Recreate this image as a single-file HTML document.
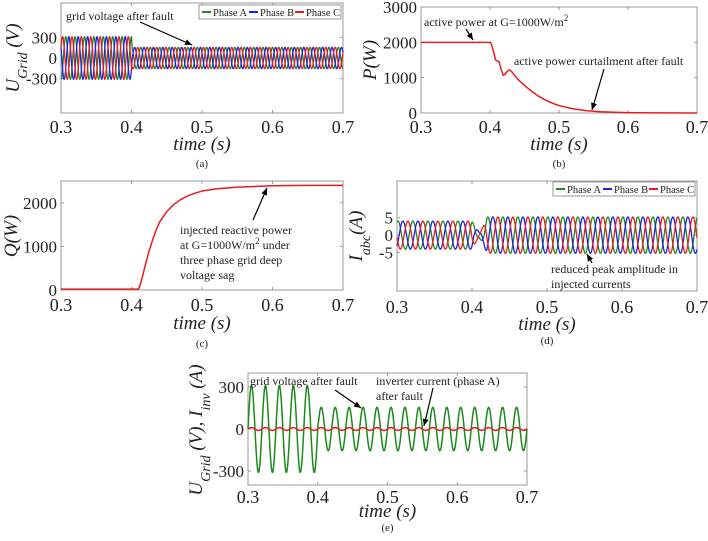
<!DOCTYPE html>
<html><head><meta charset="utf-8"><style>
body{margin:0;background:#fff}
svg{display:block;font-family:"Liberation Serif",serif}
.tk{font-size:18px;fill:#222}
.tky{font-size:17px;fill:#222}
.xl{font-size:19px;font-style:italic;fill:#222}
.an{font-size:12px;fill:#222}
.cap{font-size:11px;fill:#222}
</style></head><body>
<svg id="fig" width="708" height="541" viewBox="0 0 708 541"></svg>
<script>
// ---- data ----
const timeTicks = [0.3, 0.4, 0.5, 0.6, 0.7];
const tickLabels = ["0.3", "0.4", "0.5", "0.6", "0.7"];
// (a) grid voltage amplitude envelope (V)
const gridVoltTimes = [0.3, 0.4, 0.401, 0.7];
const gridVoltAmp = [310, 310, 155, 155];
const gridFreqA = 75;
// (b) active power
const pTimes = [0.3,0.4,0.402,0.405,0.408,0.411,0.413,0.416,0.419,0.422,0.425,0.428,0.431,0.435,0.44,0.45,0.46,0.47,0.48,0.49,0.5,0.52,0.54,0.56,0.58,0.6,0.65,0.7];
const pValues = [2000,2000,1950,1750,1500,1470,1450,1250,1070,1100,1180,1220,1180,1080,960,780,620,480,370,280,210,120,65,35,20,10,3,0];
// (c) reactive power
const qTimes = [0.3,0.41,0.413,0.417,0.42,0.425,0.43,0.435,0.44,0.45,0.46,0.47,0.48,0.49,0.5,0.52,0.55,0.6,0.65,0.7];
const qValues = [20,20,150,400,600,900,1150,1380,1560,1800,1960,2080,2160,2220,2270,2320,2360,2390,2400,2400];
// (d) currents amplitude envelope (A)
const curTimes = [0.3,0.4,0.405,0.41,0.415,0.42,0.7];
const curAmp = [4,4,2,0.8,2.5,5.2,5.2];
// (e) grid voltage phase A and inverter current
const eVoltTimes = [0.3,0.4,0.401,0.7];
const eVoltAmp = [310,310,155,155];
const eCurAmp = 10;
const gridFreq = 50;
const phaseNames = ["Phase A","Phase B","Phase C"];
const phaseColors = ["#1a8a1a","#1f1fe6","#e81c1c"];

const NS="http://www.w3.org/2000/svg";
const svg=document.getElementById('fig');
function el(tag,attrs,parent){const e=document.createElementNS(NS,tag);for(const k in attrs)e.setAttribute(k,attrs[k]);(parent||svg).appendChild(e);return e;}
function interp(ts,vs,t){if(t<=ts[0])return vs[0];for(let i=1;i<ts.length;i++){if(t<=ts[i]){const f=(t-ts[i-1])/(ts[i]-ts[i-1]);return vs[i-1]+f*(vs[i]-vs[i-1]);}}return vs[vs.length-1];}
function makeAxes(name,x0,x1,y0,y1,ymin,ymax,yticks,ylabels,labY,xlabY,cap,capY){
  const g=el('g',{});
  
  
  const sx=t=>x0+(t-0.3)/(0.4)*(x1-x0);
  const sy=v=>y1-(v-ymin)/(ymax-ymin)*(y1-y0);
  const fr=el('rect',{x:x0,y:y0,width:x1-x0,height:y1-y0,fill:'none',stroke:'#999','stroke-width':1},g);
  
  
  timeTicks.forEach((t,i)=>{
    el('line',{x1:sx(t),x2:sx(t),y1:y1,y2:y1-3,stroke:'#999'},g);
    el('line',{x1:sx(t),x2:sx(t),y1:y0,y2:y0+3,stroke:'#999'},g);
    const tx=el('text',{x:sx(t),y:labY+6,'text-anchor':'middle',class:'tk'},g);
    tx.textContent=tickLabels[i];
    
    
  });
  yticks.forEach((v,i)=>{
    el('line',{x1:x0,x2:x0+3,y1:sy(v),y2:sy(v),stroke:'#999'},g);
    el('line',{x1:x1,x2:x1-3,y1:sy(v),y2:sy(v),stroke:'#999'},g);
    const tx=el('text',{x:x0-4,y:sy(v)+6,'text-anchor':'end',class:'tky'},g);
    tx.textContent=ylabels[i];
    
    
  });
  const xl=el('text',{x:(x0+x1)/2,y:xlabY+6,'text-anchor':'middle',class:'xl'},g);
  xl.textContent='time (s)';
  
  
  const c=el('text',{x:(x0+x1)/2,y:capY+4,'text-anchor':'middle',class:'cap'},g);
  c.textContent=cap;
  
  
  return {g,sx,sy};
}
function line(ax,pts,color,w,name){
  const p=el('polyline',{points:pts.map(q=>ax.sx(q[0]).toFixed(2)+','+ax.sy(q[1]).toFixed(2)).join(' '),fill:'none',stroke:color,'stroke-width':w,'stroke-linejoin':'round'},ax.g);
  
  
}
function ylabel(x,y,html,name){
  const t=el('text',{x:0,y:0,transform:`translate(${x},${y}) rotate(-90)`,'text-anchor':'middle',class:'xl'});
  t.innerHTML=html;
  
  
}
function ann(x,y,lines,name){
  const t=el('text',{x:x,y:y,class:'an'});
  
  
  lines.forEach((s,i)=>{const ts=el('tspan',{x:x,dy:i?15:0},t);ts.innerHTML=s;});
}
function arrow(x1,y1,x2,y2){
  el('line',{x1,y1,x2,y2,stroke:'#000','stroke-width':1.2});
  const a=Math.atan2(y2-y1,x2-x1),L=7,W=3;
  const p=[[x2,y2],[x2-L*Math.cos(a)+W*Math.sin(a),y2-L*Math.sin(a)-W*Math.cos(a)],[x2-L*Math.cos(a)-W*Math.sin(a),y2-L*Math.sin(a)+W*Math.cos(a)]];
  el('polygon',{points:p.map(q=>q.join(',')).join(' '),fill:'#000'});
}
function legend(x,y,name){
  const g=el('g',{});
  
  
  el('rect',{x:x,y:y,width:142,height:14,fill:'#fff',stroke:'#999'},g);
  const offs=[3,50,96];
  phaseNames.forEach((n,i)=>{
    const e=el('g',{},g);
    
    
    el('line',{x1:x+offs[i],x2:x+offs[i]+9,y1:y+7,y2:y+7,stroke:phaseColors[i],'stroke-width':2},e);
    const t=el('text',{x:x+offs[i]+11,y:y+11,style:'font-size:10.5px;fill:#222'},e);
    t.textContent=n;
  });
}
const N=1400;
// (a)
{
  const ax=makeAxes('panel-a-grid-voltage',61,343,3,113,-800,800,[300,0,-300],["300","0","-300"],127,144,'(a)',163);
  [0,1,2].forEach(k=>{
    const pts=[];for(let i=0;i<=N;i++){const t=0.3+0.4*i/N;pts.push([t,interp(gridVoltTimes,gridVoltAmp,t)*Math.sin(2*Math.PI*gridFreqA*t-k*2*Math.PI/3+Math.PI/2)]);}
    line(ax,pts,phaseColors[k],1.3,'voltage-'+phaseNames[k].toLowerCase().replace(' ','-'));
  });
  legend(199,5,'legend-a');
  ylabel(19,58,'U<tspan baseline-shift="sub" font-size="14">Grid</tspan> (V)','y-axis-title-a');
  ann(66,20,['grid voltage after fault'],'annotation-a');
  arrow(140,22,192,45);
}
// (b)
{
  const ax=makeAxes('panel-b-active-power',421,697,7,113,0,3000,[3000,2000,1000,0],["3000","2000","1000","0"],127,144,'(b)',163);
  line(ax,pTimes.map((t,i)=>[t,pValues[i]]),'#e81c1c',1.5,'active-power-line');
  ylabel(376,60,'P(W)','y-axis-title-b');
  ann(424,26,['active power at G=1000W/m<tspan dy="-5" font-size="9">2</tspan>'],'annotation-b1');
  arrow(466,29,473,40);
  ann(514,65,['active power curtailment after fault'],'annotation-b2');
  arrow(604,69,592,110);
}
// (c)
{
  const ax=makeAxes('panel-c-reactive-power',61,343,181,290,0,2500,[2000,1000,0],["2000","1000","0"],305,323,'(c)',343);
  line(ax,qTimes.map((t,i)=>[t,qValues[i]]),'#e81c1c',1.5,'reactive-power-line');
  ylabel(17,236,'Q(W)','y-axis-title-c');
  ann(180,234,['injected reactive power','at G=1000W/m<tspan dy="-5" font-size="9">2</tspan><tspan dy="5"> under</tspan>','three phase grid deep','voltage sag'],'annotation-c');
  arrow(253,220,267,188);
}
// (d)
{
  const ax=makeAxes('panel-d-currents',397,697,181,291,-16,15.5,[5,0,-5],["5","0","-5"],307,324,'(d)',340);
  [0,1,2].forEach(k=>{
    const pts=[];for(let i=0;i<=N;i++){const t=0.3+0.4*i/N;pts.push([t,interp(curTimes,curAmp,t)*Math.sin(2*Math.PI*gridFreq*t-k*2*Math.PI/3+1.2)]);}
    line(ax,pts,phaseColors[k],1.3,'current-'+phaseNames[k].toLowerCase().replace(' ','-'));
  });
  legend(553,182,'legend-d');
  ylabel(362,236,'I<tspan baseline-shift="sub" font-size="14">abc</tspan>(A)','y-axis-title-d');
  ann(551,273,['reduced peak amplitude in','injected currents'],'annotation-d');
  arrow(592,263,587,254);
}
// (e)
{
  const ax=makeAxes('panel-e-voltage-current',248,527,373,485,-400,400,[300,0,-300],["300","0","-300"],497,511,'(e)',527);
  const pv=[],pc=[];
  for(let i=0;i<=N;i++){const t=0.3+0.4*i/N;
    pv.push([t,interp(eVoltTimes,eVoltAmp,t)*Math.sin(2*Math.PI*gridFreq*(t-0.3))]);
    pc.push([t,eCurAmp*Math.sin(2*Math.PI*gridFreq*(t-0.3))]);}
  line(ax,pv,'#1a8a1a',1.5,'grid-voltage-phase-a');
  line(ax,pc,'#e81c1c',1.5,'inverter-current-phase-a');
  ylabel(202,430,'U<tspan baseline-shift="sub" font-size="14">Grid</tspan> (V), I<tspan baseline-shift="sub" font-size="14">inv</tspan> (A)','y-axis-title-e');
  ann(250,385,['grid voltage after fault'],'annotation-e1');
  arrow(335,390,361,408);
  ann(376,385,['inverter current (phase A)','after fault'],'annotation-e2');
  arrow(433,388,424,426);
}
</script>
</body></html>
